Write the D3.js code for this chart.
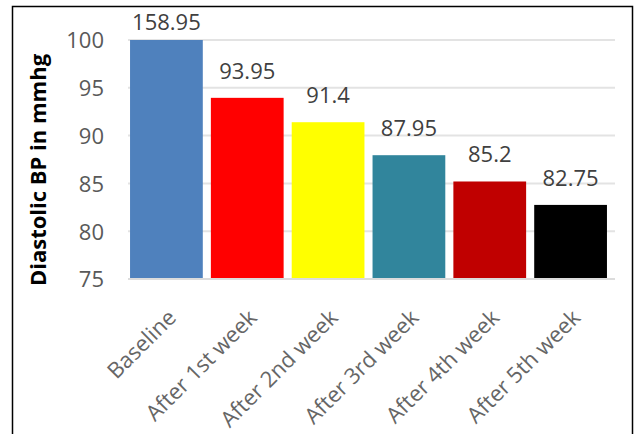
<!DOCTYPE html>
<html>
<head>
<meta charset="utf-8">
<script src="https://cdn.jsdelivr.net/npm/d3@7"></script>
<style>
  html, body { margin: 0; padding: 0; background: #fff; }
  svg { display: block; }
</style>
</head>
<body>
<svg id="chart" width="635" height="434"></svg>
<script>
// Mean diastolic blood pressure per visit
const categories = ["Baseline", "After 1st week", "After 2nd week", "After 3rd week", "After 4th week", "After 5th week"];
const values = [158.95, 93.95, 91.4, 87.95, 85.2, 82.75];
const barColors = ["#4f81bd", "#ff0000", "#ffff00", "#31859c", "#c00000", "#000000"];
const yTicks = [75, 80, 85, 90, 95, 100];
const yTitle = "Diastolic BP in mmhg";

const svg = d3.select("#chart");
const font = "'Open Sans', 'Liberation Sans', sans-serif";

// outer frame
svg.append("rect")
  .attr("x", 12.5).attr("y", 6.5)
  .attr("width", 620).attr("height", 440)
  .attr("fill", "#fff").attr("stroke", "#000").attr("stroke-width", 1.5);

const x = d3.scaleBand().domain(categories).range([126, 611]).paddingInner(0.1).paddingOuter(0.05);
// fixed 75–100 value axis; values beyond it are drawn up to the axis top
const y = d3.scaleLinear().domain([75, 100]).range([279, 40]).clamp(true);

// horizontal gridlines
svg.append("g").selectAll("line").data(yTicks.slice(1)).join("line")
  .attr("x1", 128).attr("x2", 615)
  .attr("y1", d => y(d)).attr("y2", d => y(d))
  .attr("stroke", "#e3e3e3").attr("stroke-width", 2);

// bars
svg.append("g").selectAll("rect").data(values).join("rect")
  .attr("x", (d, i) => x(categories[i]))
  .attr("width", x.bandwidth())
  .attr("y", d => y(d))
  .attr("height", d => y(75) - y(d))
  .attr("fill", (d, i) => barColors[i]);

// category axis line
svg.append("line")
  .attr("x1", 128).attr("x2", 615)
  .attr("y1", y(75)).attr("y2", y(75))
  .attr("stroke", "#dcdcdc").attr("stroke-width", 2);

// value axis labels
const yAxis = d3.axisLeft(y).tickValues(yTicks).tickSize(0).tickPadding(0);
const yg = svg.append("g").attr("transform", "translate(104,0)").call(yAxis);
yg.select(".domain").remove();
yg.selectAll("text")
  .attr("font-family", font).attr("font-size", 22).attr("fill", "#595959")
  .attr("dy", "0.36em");

// category axis labels, rotated
const xAxis = d3.axisBottom(x).tickSize(0).tickPadding(0);
const xg = svg.append("g").attr("transform", `translate(0,${y(75)})`).call(xAxis);
xg.select(".domain").remove();
xg.selectAll("text")
  .attr("font-family", font).attr("font-size", 22).attr("fill", "#666666")
  .attr("text-anchor", "end")
  .attr("dy", 0).attr("y", 0)
  .attr("transform", "translate(11,40) rotate(-45)");

// data labels, kept inside the frame
svg.append("g").selectAll("text").data(values).join("text")
  .attr("x", (d, i) => x(categories[i]) + x.bandwidth() / 2)
  .attr("y", d => Math.max(y(d) - 19, 30))
  .attr("text-anchor", "middle")
  .attr("font-family", font).attr("font-size", 22).attr("fill", "#404040")
  .text(d => d);

// value axis title
svg.append("text")
  .attr("transform", "translate(46,170) rotate(-90)")
  .attr("text-anchor", "middle")
  .attr("font-family", font).attr("font-size", 22).attr("font-weight", "bold").attr("fill", "#000")
  .text(yTitle);
</script>
</body>
</html>
